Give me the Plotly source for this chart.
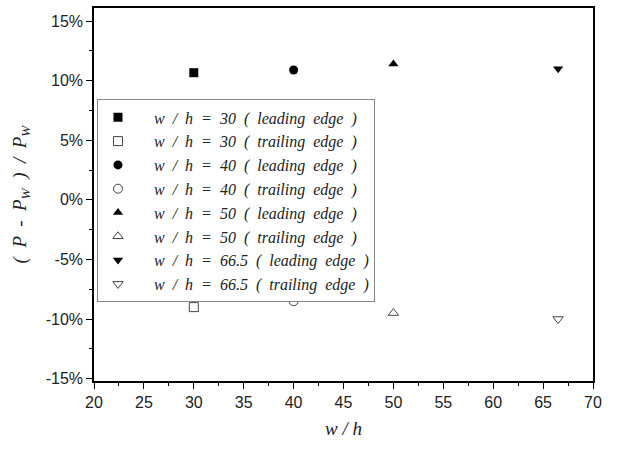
import plotly.graph_objects as go

# w/h ratios and relative pressure deviation (fraction)
ratios = [30, 40, 50, 66.5]
leading = [0.1067, 0.109, 0.114, 0.110]
trailing = [-0.090, -0.085, -0.095, -0.100]

lead_symbols = ["square", "circle", "triangle-up", "triangle-down"]
trail_symbols = ["square-open", "circle-open", "triangle-up-open", "triangle-down-open"]
ratio_labels = ["30", "40", "50", "66.5"]

y_tickvals = [-0.15, -0.10, -0.05, 0.0, 0.05, 0.10, 0.15]
y_ticktext = ["-15%", "-10%", "-5%", "0%", "5%", "10%", "15%"]

NB = "\u00a0"
GAP = NB * 2


def entry(ratio, edge):
    parts = ["w", "/", "h", "=", ratio, "(", edge, "edge", ")"]
    return NB * 4 + GAP.join(parts)


fig = go.Figure()
for i, r in enumerate(ratios):
    fig.add_trace(go.Scatter(
        x=[r], y=[leading[i]], mode="markers",
        name=entry(ratio_labels[i], "leading"),
        marker=dict(symbol=lead_symbols[i], size=9, color="black"),
    ))
    fig.add_trace(go.Scatter(
        x=[r], y=[trailing[i]], mode="markers",
        name=entry(ratio_labels[i], "trailing"),
        marker=dict(symbol=trail_symbols[i], size=9, color="#444",
                    line=dict(width=1, color="#444")),
    ))

axis_common = dict(
    showgrid=False, zeroline=False, showline=True, linecolor="black",
    linewidth=1.5, mirror=True, ticks="outside", ticklen=6, tickwidth=1.2,
    tickcolor="black", tickfont=dict(family="Liberation Sans", size=16, color="#222"),
)

fig.update_layout(
    width=639, height=454,
    margin=dict(l=94, r=46, t=6, b=73),
    paper_bgcolor="white", plot_bgcolor="white",
    showlegend=True,
    legend=dict(
        x=0.006, y=0.755, xanchor="left", yanchor="top",
        bordercolor="#888", borderwidth=1, bgcolor="white",
        font=dict(family="Liberation Serif", size=16, color="#222", style="italic"),
        itemwidth=30, tracegroupgap=0,
    ),
    xaxis=dict(
        range=[20, 70], tick0=20, dtick=5,
        minor=dict(ticks="outside", dtick=2.5, ticklen=3, tickcolor="black"),
        title=dict(text="w / h", standoff=12,
                   font=dict(family="Liberation Serif", size=19, color="#222", style="italic")),
        **axis_common,
    ),
    yaxis=dict(
        range=[-0.152, 0.161], tickvals=y_tickvals, ticktext=y_ticktext,
        minor=dict(ticks="outside", dtick=0.025, ticklen=3, tickcolor="black"),
        title=dict(text="(  P  -  P<sub>W</sub>  )  /  P<sub>W</sub>", standoff=14,
                   font=dict(family="Liberation Serif", size=19, color="#222", style="italic")),
        **axis_common,
    ),
)

fig.write_html("out.html")
